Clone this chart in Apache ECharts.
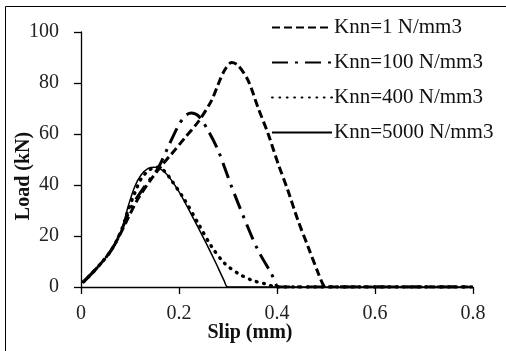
<!DOCTYPE html>
<html>
<head>
<meta charset="utf-8">
<script src="https://cdn.jsdelivr.net/npm/echarts@6/dist/echarts.min.js"></script>
<style>
html,body{margin:0;padding:0;background:#fff;}
#chart{width:506px;height:351px;}
</style>
</head>
<body>
<div id="chart"></div>
<script>
// ---- data ----
const seriesNames = ['Knn=1 N/mm3', 'Knn=100 N/mm3', 'Knn=400 N/mm3', 'Knn=5000 N/mm3'];
const xTicks = [0, 0.2, 0.4, 0.6, 0.8];
const yTicks = [0, 20, 40, 60, 80, 100];

const slip1 = [0.005, 0.035, 0.062, 0.082, 0.096, 0.116, 0.144, 0.164, 0.184, 0.212, 0.24, 0.266, 0.28, 0.293, 0.307, 0.32, 0.341, 0.361, 0.382, 0.402, 0.422, 0.443, 0.463, 0.484, 0.494, 0.5, 0.8];
const load1 = [2, 8, 14.5, 21.5, 27, 34.5, 42.5, 47.5, 52, 58.5, 65, 73, 79.5, 85, 88, 87, 81, 70.5, 60, 48.5, 38, 26, 16, 5.5, 1, 0, 0];

const slip100 = [0.005, 0.035, 0.062, 0.082, 0.103, 0.13, 0.157, 0.178, 0.198, 0.212, 0.225, 0.24, 0.259, 0.28, 0.307, 0.334, 0.361, 0.388, 0.405, 0.8];
const load100 = [2, 8, 14.5, 22, 31.5, 39.5, 46.5, 55, 63, 67, 68.2, 67, 61.5, 53.5, 39.5, 26.5, 14.5, 5.5, 0, 0];

const slip400 = [0.005, 0.035, 0.062, 0.082, 0.096, 0.11, 0.123, 0.14, 0.157, 0.17, 0.184, 0.212, 0.239, 0.266, 0.293, 0.32, 0.348, 0.375, 0.4, 0.8];
const load400 = [2, 8, 14.5, 22, 30, 37, 42.5, 46, 47, 45.5, 42, 34, 25, 16, 9.3, 5.4, 2.7, 1.3, 0, 0];

const slip5000 = [0.005, 0.035, 0.062, 0.082, 0.096, 0.11, 0.123, 0.137, 0.15, 0.171, 0.198, 0.225, 0.252, 0.275, 0.292, 0.3, 0.8];
const load5000 = [2, 8, 14.5, 22, 31.5, 39.5, 44, 46.5, 47, 45, 38, 28.5, 18.5, 9.5, 2.5, 0, 0];

// ---- build ----
const zip = (xs, ys) => xs.map((x, i) => [x, ys[i]]);
const FONT = '"Liberation Serif", "Times New Roman", serif';

const chart = echarts.init(document.getElementById('chart'), null, {renderer: 'canvas'});
const commonSeries = {
  type: 'line', symbol: 'none', showSymbol: false, smooth: 0.3,
  itemStyle: {color: '#000', opacity: 0},
  animation: false, z: 2
};
chart.setOption({
  animation: false,
  backgroundColor: '#fff',
  grid: {left: 81, right: 33, top: 32, bottom: 64, containLabel: false},
  xAxis: {
    type: 'value', min: 0, max: 0.8, interval: 0.2,
    axisLine: {lineStyle: {color: '#000', width: 1.3}},
    axisTick: {show: true, inside: false, length: 7, lineStyle: {color: '#000', width: 1.3}},
    axisLabel: {margin: 17, fontSize: 20, fontFamily: FONT, color: '#222',
      formatter: v => { const t = xTicks.find(k => Math.abs(k - v) < 1e-9); return t === undefined ? '' : String(t); }},
    splitLine: {show: false}
  },
  yAxis: {
    type: 'value', min: 0, max: 100, interval: 20,
    axisLine: {show: true, lineStyle: {color: '#000', width: 1.3}},
    axisTick: {show: true, inside: false, length: 7, lineStyle: {color: '#000', width: 1.3}},
    axisLabel: {margin: 22, fontSize: 20, fontFamily: FONT, color: '#222',
      formatter: v => { const t = yTicks.find(k => Math.abs(k - v) < 1e-9); return t === undefined ? '' : String(t); }},
    splitLine: {show: false}
  },
  legend: {
    orient: 'vertical', left: 266, top: 12,
    itemWidth: 60, itemHeight: 14, itemGap: 14,
    itemStyle: {opacity: 0},
    textStyle: {fontSize: 21, fontFamily: FONT, color: '#111', padding: [0, 0, 0, -3]},
    data: seriesNames
  },
  graphic: [
    {type: 'rect', shape: {x: 5.5, y: 6.5, width: 600, height: 400}, style: {fill: 'none', stroke: '#000', lineWidth: 1}, silent: true},
    {type: 'text', x: 250, y: 333, style: {text: 'Slip (mm)', font: 'bold 20px ' + FONT, fill: '#111', align: 'center', verticalAlign: 'middle'}},
    {type: 'text', x: 24, y: 176, rotation: Math.PI / 2, style: {text: 'Load (kN)', font: 'bold 20px ' + FONT, fill: '#111', align: 'center', verticalAlign: 'middle'}}
  ],
  series: [
    Object.assign({}, commonSeries, {name: seriesNames[0], data: zip(slip1, load1),
      lineStyle: {color: '#000', width: 3, type: [8, 4]}}),
    Object.assign({}, commonSeries, {name: seriesNames[1], data: zip(slip100, load100),
      lineStyle: {color: '#000', width: 3, type: [16, 7, 3, 7]}}),
    Object.assign({}, commonSeries, {name: seriesNames[2], data: zip(slip400, load400),
      lineStyle: {color: '#000', width: 3.4, type: [0.8, 6.6], cap: 'round'}}),
    Object.assign({}, commonSeries, {name: seriesNames[3], data: zip(slip5000, load5000),
      lineStyle: {color: '#000', width: 1.5, type: 'solid'}})
  ]
});
</script>
</body>
</html>
